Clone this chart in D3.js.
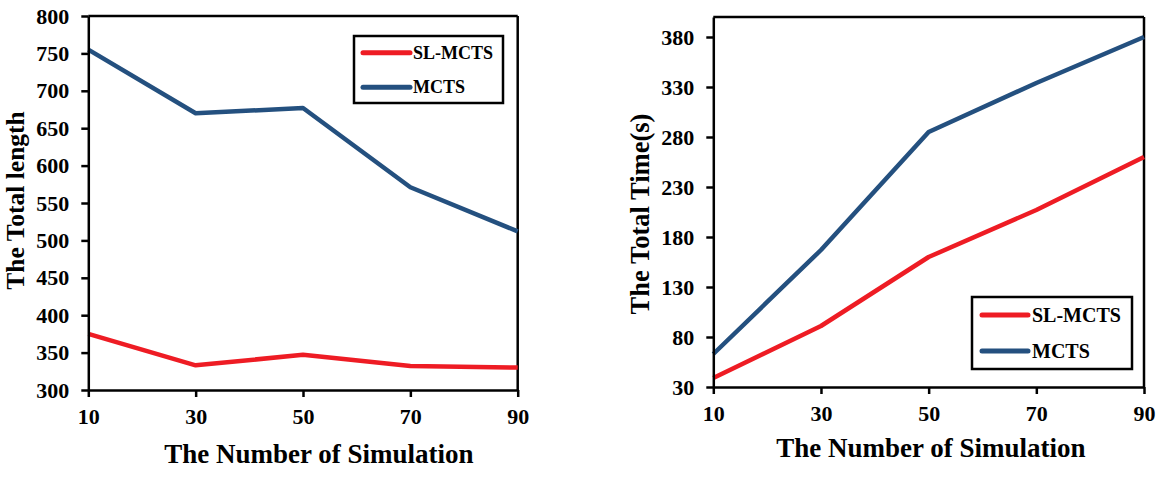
<!DOCTYPE html>
<html>
<head>
<meta charset="utf-8">
<script src="https://cdn.jsdelivr.net/npm/d3@7/dist/d3.min.js"></script>
<style>
  body { margin: 0; background: #fff; }
  svg { display: block; font-family: "Liberation Serif", "Times New Roman", serif; font-weight: bold; }
</style>
</head>
<body>
<svg id="chart" width="1170" height="479"></svg>
<script>
// ---- data ----
const simulations = [10, 30, 50, 70, 90];
const seriesNames = ["SL-MCTS", "MCTS"];
const lengthSL = [375, 333, 347, 332, 330];
const lengthMCTS = [755, 670, 677, 571, 512];
const timeSL = [39, 91, 160, 207, 260];
const timeMCTS = [63, 167, 285, 334, 380];
const lengthTicks = [300, 350, 400, 450, 500, 550, 600, 650, 700, 750, 800];
const timeTicks = [30, 80, 130, 180, 230, 280, 330, 380];
const colors = ["#ee1c24", "#24507f"];

const svg = d3.select("#chart");

function panel(cfg) {
  const x = d3.scaleLinear().domain([10, 90]).range([cfg.left, cfg.right]);
  const y = d3.scaleLinear().domain(cfg.yDomain).range([cfg.bottom, cfg.top]);
  const g = svg.append("g");

  // frame top & right
  g.append("line").attr("x1", cfg.left).attr("x2", cfg.right).attr("y1", cfg.top).attr("y2", cfg.top)
    .attr("stroke", "#000").attr("stroke-width", 2.5);
  g.append("line").attr("x1", cfg.right).attr("x2", cfg.right).attr("y1", cfg.top).attr("y2", cfg.bottom)
    .attr("stroke", "#000").attr("stroke-width", 2.5);

  // lines
  const line = d3.line().x((d, i) => x(simulations[i])).y(d => y(d));
  cfg.series.forEach((s, k) => {
    g.append("path").datum(s).attr("d", line).attr("fill", "none")
      .attr("stroke", colors[k]).attr("stroke-width", 4.5).attr("stroke-linejoin", "round");
  });

  // axes
  const yAxis = d3.axisLeft(y).tickValues(cfg.yTicks).tickSize(7).tickSizeOuter(0).tickPadding(12);
  const xAxis = d3.axisBottom(x).tickValues(simulations).tickSize(7).tickSizeOuter(0).tickPadding(11);
  const ya = g.append("g").attr("transform", `translate(${cfg.left},0)`).call(yAxis);
  const xa = g.append("g").attr("transform", `translate(0,${cfg.bottom})`).call(xAxis);
  [ya, xa].forEach(a => {
    a.attr("font-size", null).attr("font-family", null);
    a.select(".domain").attr("stroke", "#000").attr("stroke-width", 2.5);
    a.selectAll(".tick line").attr("stroke", "#000").attr("stroke-width", 2.5);
    a.selectAll(".tick text").attr("fill", "#000").style("font-size", "22px")
      .style("font-family", '"Liberation Serif", "Times New Roman", serif').style("font-weight", "bold");
  });

  // axis titles
  g.append("text").attr("x", cfg.xTitleX).attr("y", cfg.xTitleY).attr("text-anchor", "middle")
    .style("font-size", "27px").text("The Number of Simulation");
  g.append("text").attr("transform", `translate(${cfg.yTitleX},${cfg.yTitleY}) rotate(-90)`)
    .attr("text-anchor", "middle").style("font-size", cfg.yTitleSize + "px").text(cfg.yTitle);

  // legend
  const L = cfg.legend;
  g.append("rect").attr("x", L.x).attr("y", L.y).attr("width", L.w).attr("height", L.h)
    .attr("fill", "#fff").attr("stroke", "#000").attr("stroke-width", 2.5);
  seriesNames.forEach((n, k) => {
    const ly = L.rows[k];
    g.append("line").attr("x1", L.lx1).attr("x2", L.lx2).attr("y1", ly).attr("y2", ly)
      .attr("stroke", colors[k]).attr("stroke-width", 5).attr("stroke-linecap", "round");
    g.append("text").attr("x", L.tx).attr("y", ly + L.fs * 0.33).style("font-size", L.fs + "px").text(n);
  });
}

panel({
  left: 88.3, right: 517.7, top: 16, bottom: 390,
  yDomain: [300, 800], yTicks: lengthTicks,
  series: [lengthSL, lengthMCTS],
  xTitleX: 319, xTitleY: 463,
  yTitle: "The Total length", yTitleX: 24, yTitleY: 200.5, yTitleSize: 25.5,
  legend: { x: 354, y: 36, w: 149, h: 67, rows: [52.7, 87.3], lx1: 363, lx2: 410, tx: 413, fs: 18 }
});

panel({
  left: 713.3, right: 1144, top: 17, bottom: 387,
  yDomain: [30, 400], yTicks: timeTicks,
  series: [timeSL, timeMCTS],
  xTitleX: 931, xTitleY: 457,
  yTitle: "The Total Time(s)", yTitleX: 649, yTitleY: 214, yTitleSize: 26.5,
  legend: { x: 972, y: 297, w: 160, h: 72, rows: [315, 351], lx1: 982, lx2: 1028, tx: 1032, fs: 20 }
});
</script>
</body>
</html>
